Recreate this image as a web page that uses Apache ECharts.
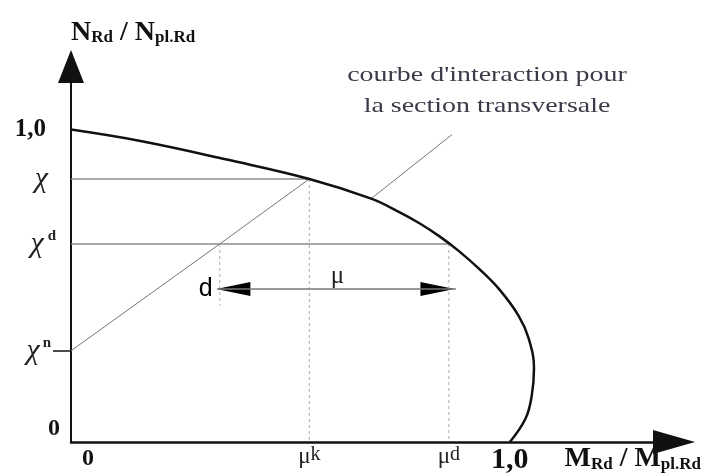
<!DOCTYPE html>
<html lang="fr">
<head>
    <meta charset="UTF-8">
    <title>Courbe d'interaction</title>
    <script src="https://cdn.jsdelivr.net/npm/echarts@6/dist/echarts.min.js"></script>
    <style>
        html, body { margin: 0; padding: 0; background: #fff; }
        #main { width: 704px; height: 475px; }
    </style>
</head>
<body>
    <div id="main"></div>
    <script type="text/javascript">
        // courbe d'interaction (M/Mpl, N/Npl)
        const curveM = [0, 0.164, 0.355, 0.543, 0.684, 0.748, 0.793, 0.839, 0.884, 0.930, 0.975, 1.020, 1.043, 1.055, 1.05, 1.036, 1.0];
        const curveN = [1.0, 0.962, 0.904, 0.842, 0.779, 0.736, 0.701, 0.659, 0.611, 0.554, 0.490, 0.404, 0.331, 0.236, 0.15, 0.076, 0];

        // valeurs particulieres
        const chi = 0.842, chiD = 0.634, chiN = 0.292;
        const muK = 0.543, muD = 0.861, dM = 0.339;
        const dLow = 0.436;          // bas du trait pointille sous d
        const arrowN = 0.49;         // niveau de la fleche mu
        const arrowM = [0.334, 0.877];
        const leaderM = [0.684, 0.868], leaderN = [0.779, 0.984];

        const yTicks = [0, chiN, chiD, chi, 1.0];
        const yTickLabels = ['{b0|0}', '{chi|χ}{sup|n}', '{chi|χ}{supd|d}', '{chi1|χ}', '{b1|1,0}'];
        const xTicks = [0, muK, muD, 1.0];
        const xTickLabels = ['{x0|0}', '{mu|μ}{k|k}', '{mu|μ}{k|d}', '{x1|1,0}'];

        function pick(ticks, labels, v) {
            for (let i = 0; i < ticks.length; i++) {
                if (Math.abs(ticks[i] - v) < 1e-6) return labels[i];
            }
            return '';
        }
        function seg(m, n) {
            return m.map(function (v, i) { return [v, n[i]]; });
        }

        const serif = '"Liberation Serif", "DejaVu Serif", serif';
        const gray = '#8c8c8c';

        var myChart = echarts.init(document.getElementById('main'));
        var option = {
            animation: false,
            backgroundColor: '#fff',
            grid: { left: 71, right: 28.5, top: 66.5, bottom: 31 },
            xAxis: {
                type: 'value',
                min: 0,
                max: 1.374,
                splitLine: { show: false },
                axisTick: { show: false },
                axisLine: {
                    onZero: false,
                    symbol: ['none', 'triangle'],
                    symbolSize: [24, 42],
                    lineStyle: { color: '#111', width: 2.5 }
                },
                axisLabel: {
                    customValues: xTicks,
                    margin: 3,
                    formatter: function (v) { return pick(xTicks, xTickLabels, v); },
                    rich: {
                        x0: { fontFamily: serif, fontWeight: 'bold', fontSize: 24, color: '#111', padding: [2, 0, 0, 34] },
                        mu: { fontFamily: serif, fontSize: 23, color: '#222' },
                        k: { fontFamily: serif, fontSize: 20, color: '#222', padding: [0, 0, 3, 0] },
                        x1: { fontFamily: serif, fontWeight: 'bold', fontSize: 30, color: '#111' }
                    }
                },
                name: '{M|M}{s|Rd}{M| / M}{s|pl.Rd}',
                nameLocation: 'end',
                nameGap: 27,
                nameTextStyle: {
                    align: 'right',
                    verticalAlign: 'top',
                    padding: [3, 0, 0, 0],
                    rich: {
                        M: { fontFamily: serif, fontWeight: 'bold', fontSize: 28, color: '#111', lineHeight: 28, verticalAlign: 'bottom' },
                        s: { fontFamily: serif, fontWeight: 'bold', fontSize: 17, color: '#111', lineHeight: 28, verticalAlign: 'bottom' }
                    }
                }
            },
            yAxis: {
                type: 'value',
                min: 0,
                max: 1.202,
                splitLine: { show: false },
                axisTick: {
                    show: true,
                    customValues: [chiN],
                    length: 18,
                    lineStyle: { color: '#111', width: 1.5 }
                },
                axisLine: {
                    onZero: false,
                    symbol: ['none', 'triangle'],
                    symbolSize: [26, 33],
                    lineStyle: { color: '#111', width: 2 }
                },
                axisLabel: {
                    customValues: yTicks,
                    margin: 8,
                    formatter: function (v) { return pick(yTicks, yTickLabels, v); },
                    rich: {
                        b0: { fontFamily: serif, fontWeight: 'bold', fontSize: 24, color: '#111', padding: [0, 3, 26, 0] },
                        b1: { fontFamily: serif, fontWeight: 'bold', fontSize: 25, color: '#111', padding: [0, 17, 0, 0] },
                        chi: { fontFamily: serif, fontStyle: 'italic', fontSize: 30, color: '#222' },
                        chi1: { fontFamily: serif, fontStyle: 'italic', fontSize: 30, color: '#222', padding: [0, 15, 0, 0] },
                        sup: { fontFamily: serif, fontWeight: 'bold', fontSize: 15, color: '#222', verticalAlign: 'top', padding: [0, 12, 0, 3] },
                        supd: { fontFamily: serif, fontWeight: 'bold', fontSize: 15, color: '#222', verticalAlign: 'top', padding: [0, 7, 0, 4] }
                    }
                },
                name: '{N|N}{s|Rd}{N| / N}{s|pl.Rd}',
                nameLocation: 'end',
                nameGap: 20,
                nameTextStyle: {
                    align: 'left',
                    rich: {
                        N: { fontFamily: serif, fontWeight: 'bold', fontSize: 28, color: '#111', lineHeight: 28, verticalAlign: 'bottom' },
                        s: { fontFamily: serif, fontWeight: 'bold', fontSize: 17, color: '#111', lineHeight: 28, verticalAlign: 'bottom' }
                    }
                }
            },
            graphic: [{
                type: 'text',
                x: 487,
                y: 60,
                scaleX: 1.27,
                style: {
                    text: "courbe d'interaction pour\nla section transversale",
                    align: 'center',
                    font: '22px "Liberation Serif", serif',
                    fill: '#3a3a48',
                    lineHeight: 31
                }
            }],
            series: [
                {   // chi horizontale
                    type: 'line', symbol: 'none', silent: true,
                    data: [[0, chi], [muK, chi]],
                    lineStyle: { color: gray, width: 1.5 }
                },
                {   // chi-d horizontale
                    type: 'line', symbol: 'none', silent: true,
                    data: [[0, chiD], [muD, chiD]],
                    lineStyle: { color: gray, width: 1.5 }
                },
                {   // droite chi-n -> chi
                    type: 'line', symbol: 'none', silent: true,
                    data: [[0, chiN], [dM, chiD], [muK, chi]],
                    lineStyle: { color: '#777', width: 1 }
                },
                {   // trait de rappel du texte
                    type: 'line', symbol: 'none', silent: true,
                    data: seg(leaderM, leaderN),
                    lineStyle: { color: '#777', width: 1 }
                },
                {   // pointilles verticaux
                    type: 'line', symbol: 'none', silent: true,
                    data: [[muK, chi], [muK, 0]],
                    lineStyle: { color: '#aaa', width: 1, type: [3, 3] }
                },
                {
                    type: 'line', symbol: 'none', silent: true,
                    data: [[muD, chiD], [muD, 0]],
                    lineStyle: { color: '#aaa', width: 1, type: [3, 3] }
                },
                {
                    type: 'line', symbol: 'none', silent: true,
                    data: [[dM, chiD], [dM, dLow]],
                    lineStyle: { color: '#aaa', width: 1, type: [3, 3] }
                },
                {   // fleche mu : tige
                    type: 'line', symbol: 'none', silent: true,
                    data: [[arrowM[0], arrowN], [arrowM[1], arrowN]],
                    lineStyle: { color: '#777', width: 1.5 }
                },
                {   // fleche mu : pointes
                    type: 'scatter', silent: true,
                    symbol: 'triangle',
                    symbolSize: [14, 34],
                    itemStyle: { color: '#000', opacity: 1 },
                    data: [
                        { value: [0.370, arrowN], symbolRotate: 90 },
                        { value: [0.835, arrowN], symbolRotate: -90 }
                    ]
                },
                {   // etiquettes d et mu
                    type: 'scatter', silent: true,
                    symbolSize: 0,
                    itemStyle: { opacity: 1 },
                    label: {
                        show: true,
                        position: 'inside',
                        formatter: '{b}',
                        fontSize: 25,
                        color: '#000',
                        fontFamily: '"Liberation Sans", Arial, sans-serif'
                    },
                    data: [
                        { name: 'd', value: [0.307, 0.49] },
                        { name: 'μ', value: [0.607, 0.53], label: { fontFamily: serif, fontSize: 25, color: '#222' } }
                    ]
                },
                {   // courbe d'interaction
                    type: 'line', symbol: 'none', silent: true,
                    smooth: 0.4,
                    data: seg(curveM, curveN),
                    lineStyle: { color: '#111', width: 2.5 }
                }
            ]
        };
        myChart.setOption(option);
    </script>
</body>
</html>
